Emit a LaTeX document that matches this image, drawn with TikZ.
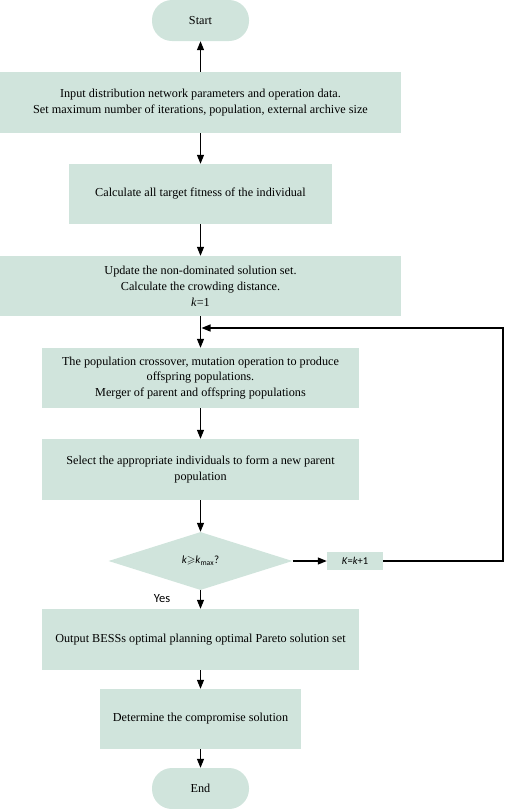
\documentclass[tikz,border=0pt]{standalone}
\usepackage{fontspec}
\usepackage{amssymb}
\setmainfont{Liberation Serif}
\newfontfamily\calib{Carlito}
\usetikzlibrary{arrows.meta,shapes.geometric}
\definecolor{boxfill}{RGB}{208,228,220}
\begin{document}
\begin{tikzpicture}[x=1pt,y=-1pt,
 box/.style={fill=boxfill, draw=none, align=center, font=\fontsize{12.2}{15.8}\selectfont, inner sep=0pt},
 term/.style={box, rounded corners=20pt, minimum width=97pt, minimum height=41pt},
 arr/.style={-{Triangle[length=9pt,width=7pt]}, line width=1.2pt},
 sans/.style={font=\calib\fontsize{10.5}{12}\selectfont},
]
\useasboundingbox (0,0) rectangle (505,809);
\node[term] (start) at (200.5,20.5) {Start};
\node[box, minimum width=401pt, minimum height=61pt] (input) at (200.5,102.5) {Input distribution network parameters and operation data.\\Set maximum number of iterations, population, external archive size};
\node[box, minimum width=263pt, minimum height=60pt] (calc) at (200.5,194) {Calculate all target fitness of the individual};
\node[box, minimum width=401pt, minimum height=60pt] (update) at (200.5,286) {Update the non-dominated solution set.\\Calculate the crowding distance.\\\textit{k}=1};
\node[box, minimum width=317pt, minimum height=60pt] (cross) at (200.5,378) {The population crossover, mutation operation to produce\\offspring populations.\\Merger of parent and offspring populations};
\node[box, minimum width=317pt, minimum height=61pt] (select) at (200.5,469.5) {Select the appropriate individuals to form a new parent\\population};
\node[diamond, fill=boxfill, minimum width=184pt, minimum height=58pt, inner sep=0pt, sans, font=\calib\fontsize{11}{12}\selectfont] (dec) at (200.5,561) {\textit{k}$\geqslant$\textit{k}\textsubscript{max}?};
\node[box, minimum width=56pt, minimum height=18pt, sans] (kk) at (355,561) {\textit{K}=\textit{k}+1};
\node[box, minimum width=317pt, minimum height=61pt] (out) at (200.5,639.5) {Output BESSs optimal planning optimal Pareto solution set};
\node[box, minimum width=201pt, minimum height=60pt] (det) at (200.5,719) {Determine the compromise solution};
\node[term] (end) at (200.5,788.5) {End};
\node[font=\calib\fontsize{12.5}{14}\selectfont] (yes) at (162,599) {Yes};
\coordinate (corner) at (503,328);
\coordinate (loopin) at (201.5,328);
\draw[arr] (input) -- (start);
\draw[arr] (input) -- (calc);
\draw[arr] (calc) -- (update);
\draw[arr] (update) -- (cross);
\draw[arr] (cross) -- (select);
\draw[arr] (select) -- (dec);
\draw[arr] (dec) -- (kk);
\draw[arr] (kk.east) -| (corner) -- (loopin);
\draw[arr] (dec) -- (out);
\draw[arr] (out) -- (det);
\draw[arr] (det) -- (end);
\end{tikzpicture}
\end{document}
